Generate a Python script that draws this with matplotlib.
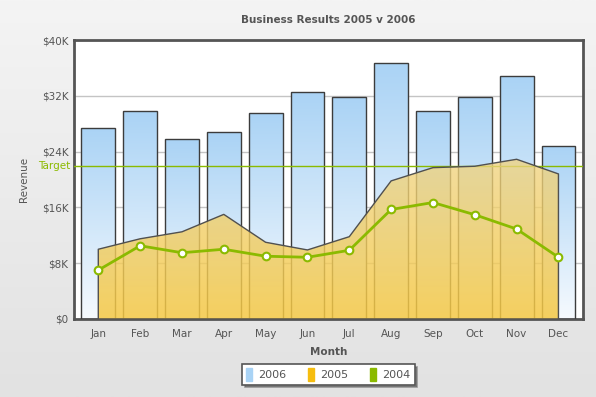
import numpy as np
import matplotlib
matplotlib.use('Agg')
import matplotlib.pyplot as plt
from matplotlib.colors import LinearSegmentedColormap

months = ['Jan', 'Feb', 'Mar', 'Apr', 'May', 'Jun', 'Jul', 'Aug', 'Sep', 'Oct', 'Nov', 'Dec']
rev_2006 = [27.4, 29.8, 25.8, 26.8, 29.6, 32.6, 31.8, 36.7, 29.8, 31.9, 34.8, 24.8]
rev_2005 = [10.0, 11.5, 12.5, 15.0, 11.0, 9.9, 11.8, 19.8, 21.7, 21.9, 22.9, 20.8]
rev_2004 = [7.0, 10.5, 9.5, 10.0, 9.0, 8.85, 9.85, 15.7, 16.7, 14.95, 12.9, 8.85]
target = 22.0
y_ticks = [0, 8, 16, 24, 32, 40]

grey = '#555555'
green = '#8BBA00'
plt.rcParams['font.family'] = 'DejaVu Sans'
plt.rcParams['font.size'] = 7.5

fig = plt.figure(figsize=(5.96, 3.97), dpi=100)

# background gradient
bg = fig.add_axes([0, 0, 1, 1], zorder=-10)
bg.imshow(np.linspace(0, 1, 256).reshape(-1, 1), aspect='auto', extent=(0, 1, 0, 1),
          cmap=LinearSegmentedColormap.from_list('bg', ['#F4F4F4', '#E2E2E2']))
bg.axis('off')

ax = fig.add_axes([0.1242, 0.1965, 0.9777 - 0.1242, 0.8992 - 0.1965])
x = np.arange(len(months))
w = 0.81

ax.set_axisbelow(True)
ax.grid(axis='y', color='#C4C4C4', lw=1, zorder=0)

grad = np.linspace(0, 1, 256).reshape(-1, 1)
blue_cmap = LinearSegmentedColormap.from_list('blue', ['#F6FAFE', '#AAD3F5'])
bars = ax.bar(x, rev_2006, width=w, facecolor='none', edgecolor='#3C3C3C', lw=1, zorder=3)
for b in bars:
    x0, y1 = b.get_x(), b.get_height()
    im = ax.imshow(grad, extent=(x0, x0 + b.get_width(), 0, y1), origin='lower',
                   aspect='auto', cmap=blue_cmap, zorder=2)
    im.set_clip_path(b)

ax.axhline(target, color=green, lw=1, zorder=3.5)

# 2005 area with gradient
area = ax.fill_between(x, rev_2005, 0, facecolor='none', edgecolor='#505050', lw=1, zorder=5)
area_rgba = np.zeros((256, 1, 4))
bot = np.array([245, 200, 67, 0.85 * 255]) / 255
top = np.array([240, 212, 130, 0.78 * 255]) / 255
t = np.linspace(0, 1, 256)
area_rgba[:, 0, :] = bot + (top - bot) * t[:, None]
aim = ax.imshow(area_rgba, extent=(x[0], x[-1], 0, max(rev_2005)), origin='lower',
                aspect='auto', zorder=4)
aim.set_clip_path(area.get_paths()[0], ax.transData)

ax.plot(x, rev_2004, color=green, lw=2, marker='o', ms=5.5, mfc='white', mec=green,
        mew=1.5, zorder=6)

ax.set_xlim(-0.58, 11.58)
ax.set_ylim(0, 40)
ax.set_xticks(x)
ax.set_xticklabels(months, color=grey)
ax.set_yticks(y_ticks)
ax.set_yticklabels([f'${v}K' if v else '$0' for v in y_ticks], color=grey)
ax.tick_params(length=0, pad=4)
ax.tick_params(axis='x', pad=7)
for s in ax.spines.values():
    s.set_color(grey)
    s.set_linewidth(2)

ax.text(-0.008, target, 'Target', color=green, ha='right', va='center', fontsize=7.5,
        transform=ax.get_yaxis_transform())
ax.set_title('Business Results 2005 v 2006', fontsize=7.5, fontweight='bold', color=grey, pad=12)
ax.set_xlabel('Month', fontsize=7.5, fontweight='bold', color=grey, labelpad=6)
ax.set_ylabel('Revenue', fontsize=7.5, color=grey, labelpad=9)

handles = [plt.Rectangle((0, 0), 1, 1, color=c) for c in ['#A9D3F5', '#F6BD0F', '#8BBA00']]
leg = fig.legend(handles, ['2006', '2005', '2004'], loc='center', ncol=3,
                 bbox_to_anchor=(0.551, 0.057), fontsize=8, frameon=True, fancybox=False,
                 shadow=True, handlelength=0.5, handleheight=1.4, handletextpad=0.6,
                 columnspacing=1.95, borderpad=0.35, labelcolor=grey)
leg.get_frame().set_edgecolor(grey)
leg.get_frame().set_linewidth(1.2)

fig.savefig('out.png', dpi=100)
